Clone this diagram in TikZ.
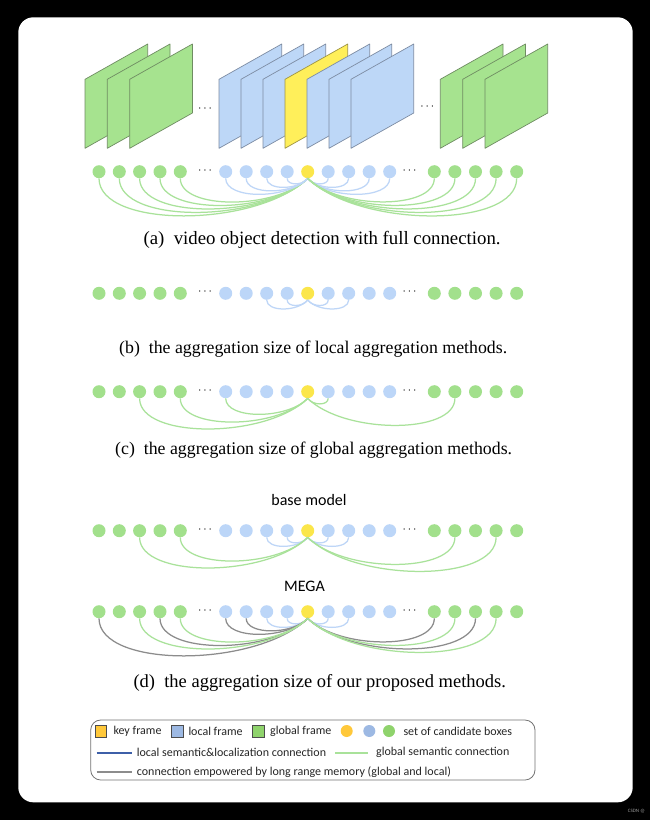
\documentclass[tikz,border=0pt]{standalone}
\usepackage{fontspec}
\setmainfont{Liberation Serif}
\newfontfamily\legendfont{Carlito}
\usetikzlibrary{positioning,calc}

\definecolor{fgreen}{HTML}{A6E38F}
\definecolor{sgreen}{HTML}{6F8C62}
\definecolor{fblue}{HTML}{BDD7F7}
\definecolor{sblue}{HTML}{7D8CA3}
\definecolor{fyellow}{HTML}{FFEF5A}
\definecolor{syellow}{HTML}{9E9444}
\definecolor{dgreen}{HTML}{A2E08C}
\definecolor{dblue}{HTML}{BCD6F8}
\definecolor{dyellow}{HTML}{FBE64A}
\definecolor{cgreen}{HTML}{A9E29A}
\definecolor{cblue}{HTML}{BED6F7}
\definecolor{cgray}{HTML}{8C8C8C}
\definecolor{kyellow}{HTML}{FFC83A}
\definecolor{kblue}{HTML}{9DB9E3}
\definecolor{kgreen}{HTML}{8FD36C}
\definecolor{lblue}{HTML}{3D5FA8}

\tikzset{
	dot/.style={circle, inner sep=0pt, minimum size=13pt},
	link/.style={draw=#1, line width=1.25pt},
	frame/.style={line width=0.7pt, line join=round},
	caption/.style={anchor=west, inner sep=0pt, font=\fontsize{17.8}{20}\selectfont},
	label/.style={inner sep=0pt, font=\legendfont\fontsize{16}{18}\selectfont},
	key/.style={anchor=west, inner sep=0pt, font=\legendfont\fontsize{12}{14}\selectfont, text=black!85},
	swatch/.style={draw=black!70, line width=0.5pt, minimum size=11.7pt, inner sep=0pt},
	ell/.style={inner sep=0pt, font=\fontsize{12}{12}\selectfont},
}

% curve from box #2 of row #1 down to the key box (index 10)
\newcommand{\joinkey}[3]{%
	\draw[link=#3] let \p1=(#1#2.south), \p2=(#110.south),
		\n1={(2pt+0.17*abs(\x2-\x1))*4/3}, \n2={0.25*(\x2-\x1)} in
		(#1#2.south) .. controls (\x1,\y1-\n1) and (\x2-\n2,\y2-\n1) .. (#110.south);
}

\begin{document}
\begin{tikzpicture}[x=1pt, y=-1pt]
	\useasboundingbox (0,0) rectangle (650,820);
	\fill[black] (0,0) rectangle (650,820);
	\fill[white, rounded corners=15pt] (18.3,17.3) rectangle (632.7,802.3);

	% frames
	\foreach \x/\f/\s in {85/fgreen/sgreen,107.3/fgreen/sgreen,129.7/fgreen/sgreen,
		219/fblue/sblue,241/fblue/sblue,263/fblue/sblue,285/fyellow/syellow,
		307/fblue/sblue,329/fblue/sblue,351/fblue/sblue,
		440.3/fgreen/sgreen,462.7/fgreen/sgreen,485/fgreen/sgreen} {
		\draw[frame, fill=\f, draw=\s] (\x,79.3) -- ++(62.7,-35.3) -- ++(0,69) -- ++(-62.7,35.3) -- cycle;
	};
	\node[ell] (fdotsl) at (205,109.3) {$\cdots$};
	\node[ell] (fdotsr) at (427.3,106.7) {$\cdots$};

	% candidate boxes
	\foreach \r/\y in {full/171.7,local/293.3,global/391.7,base/530.7,mega/611.7} {
		\foreach \i/\x/\c in {1/99/dgreen,2/119.3/dgreen,3/139.6/dgreen,4/160/dgreen,5/180.3/dgreen,
			6/225.7/dblue,7/246.2/dblue,8/266.7/dblue,9/287.2/dblue,10/307.7/dyellow,
			11/328.2/dblue,12/348.7/dblue,13/369.2/dblue,14/389.7/dblue,
			15/434.3/dgreen,16/454.9/dgreen,17/475.5/dgreen,18/496.1/dgreen,19/516.7/dgreen} {
			\node[dot, fill=\c] (\r\i) at (\x,\y) {};
		};
		\node[ell] (\r dotsl) at (205,\y-1) {$\cdots$};
		\node[ell] (\r dotsr) at (409.5,\y-1) {$\cdots$};
	};

	% (a) full connection
	\foreach \i/\c in {1/cgreen,2/cgreen,3/cgreen,4/cgreen,5/cgreen,6/cblue,7/cblue,8/cblue,9/cblue,
		11/cblue,12/cblue,13/cblue,14/cblue,15/cgreen,16/cgreen,17/cgreen,18/cgreen,19/cgreen} {
		\joinkey{full}{\i}{\c}
	};
	% (b) local
	\foreach \i in {8,9,11,12} {
		\joinkey{local}{\i}{cblue}
	};
	% (c) global
	\foreach \i in {3,5,6,11,16} {
		\joinkey{global}{\i}{cgreen}
	};
	% (d) base model and MEGA
	\foreach \i/\c in {8/cblue,9/cblue,11/cblue,12/cblue,3/cgreen,5/cgreen,16/cgreen,18/cgreen} {
		\joinkey{base}{\i}{\c}
	};
	\foreach \i/\c in {8/cblue,9/cblue,11/cblue,12/cblue,1/cgray,4/cgray,6/cgray,7/cgray,15/cgray,17/cgray,
		3/cgreen,5/cgreen,16/cgreen,18/cgreen} {
		\joinkey{mega}{\i}{\c}
	};

	% captions
	\node[caption, font=\fontsize{18.8}{21}\selectfont] (capa) at (143.3,240) {(a)\enspace video object detection with full connection.};
	\node[caption] (capb) at (119,349) {(b)\enspace the aggregation size of local aggregation methods.};
	\node[caption] (capc) at (115,450) {(c)\enspace the aggregation size of global aggregation methods.};
	\node[caption, font=\fontsize{18.5}{21}\selectfont] (capd) at (133.3,683.3) {(d)\enspace the aggregation size of our proposed methods.};
	\node[label] (lbase) at (309,500) {base model};
	\node[label] (lmega) at (304.5,586) {MEGA};

	% legend
	\draw[draw=black!55, line width=0.8pt, rounded corners=10pt] (90.7,720) rectangle (535,780);
	\node[swatch, fill=kyellow] (skey) at (100.8,731) {};
	\node[key] (tkey) at (113.3,731) {key frame};
	\node[swatch, fill=kblue] (sloc) at (177.5,731) {};
	\node[key] (tloc) at (188.3,731) {local frame};
	\node[swatch, fill=kgreen] (sglo) at (258.2,731) {};
	\node[key] (tglo) at (270,731) {global frame};
	\node[dot, minimum size=12pt, fill=kyellow] (ckey) at (346.7,731) {};
	\node[dot, minimum size=12pt, fill=kblue] (cloc) at (369.3,731) {};
	\node[dot, minimum size=12pt, fill=kgreen] (cglo) at (389,731) {};
	\node[key] (tset) at (403.3,731) {set of candidate boxes};
	\draw[lblue, line width=2pt] (96.7,752.7) -- (131.7,752.7);
	\node[key] (tlsc) at (136.7,752.7) {local semantic\&localization connection};
	\draw[cgreen, line width=2pt] (335,752.7) -- (368.3,752.7);
	\node[key] (tgsc) at (376,752.7) {global semantic connection};
	\draw[cgray, line width=2pt] (96.7,771.7) -- (131.7,771.7);
	\node[key] (tlrm) at (136.7,771.7) {connection empowered by long range memory (global and local)};

	\node[anchor=east, inner sep=0pt, font=\legendfont\fontsize{5}{5}\selectfont, text=black!40] (mark) at (645,811) {CSDN @};
\end{tikzpicture}
\end{document}
